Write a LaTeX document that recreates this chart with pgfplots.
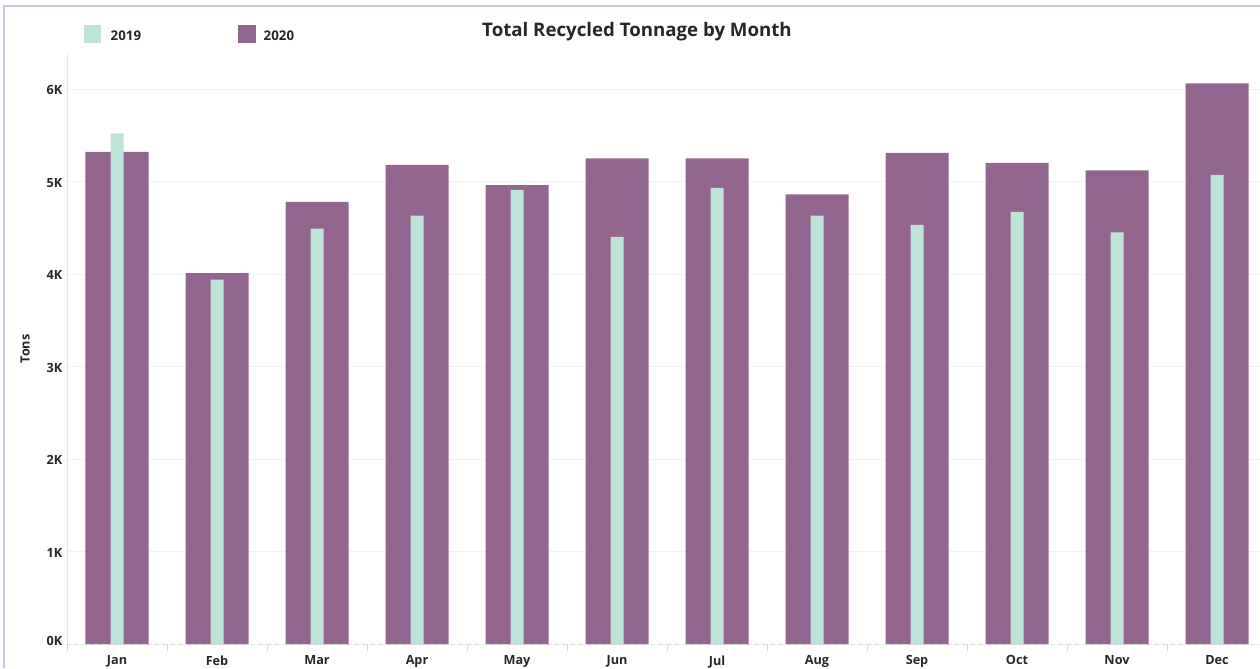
\documentclass[border=0pt]{standalone}
\usepackage{pgfplots}
\pgfplotsset{compat=1.18}
\usepackage{fontspec}
\setmainfont{Open Sans}
\definecolor{mint}{RGB}{189,228,217}
\definecolor{plum}{RGB}{147,102,143}
\definecolor{framecol}{RGB}{192,200,250}
\begin{document}
\begin{tikzpicture}[x=0.75pt,y=0.75pt]
\useasboundingbox (0,0) rectangle (1260,668);
\draw[framecol, line width=1.5pt] (4,0) -- (4,662) -- (1260,662);
% legend
\fill[mint] (84,643) rectangle (101,625);
\node[anchor=base west, font=\fontsize{10}{12}\selectfont\bfseries, text=black!85] at (106,627) {2019};
\fill[plum] (238,643) rectangle (256,625);
\node[anchor=base west, font=\fontsize{10}{12}\selectfont\bfseries, text=black!85] at (259,627) {2020};
% title
\node[anchor=base, font=\fontsize{14}{16}\selectfont\bfseries, text=black!85] at (637,631.5) {Total Recycled Tonnage by Month};
\begin{axis}[
  at={(50.25pt,18pt)}, anchor=south west, scale only axis,
  width=894.75pt, height=442.5pt,
  xmin=-0.5, xmax=11.43, ymin=0, ymax=6378,
  xtick={0,...,11},
  xticklabels={Jan,Feb,Mar,Apr,May,Jun,Jul,Aug,Sep,Oct,Nov,Dec},
  ytick={0,1000,2000,3000,4000,5000,6000},
  yticklabels={\raisebox{6pt}{0K},1K,2K,3K,4K,5K,6K},
  minor xtick={-0.5,0.5,...,11.5},
  axis lines=left,
  axis line style={draw=gray!18, -},
  x axis line style={dashed, draw=gray!30},
  ymajorgrids,
  grid style={draw=gray!10, line width=0.6pt},
  major tick length=0pt, minor tick length=5pt, tick align=outside,
  minor tick style={draw=gray!30},
  ticklabel style={font=\fontsize{9.5}{11}\selectfont\bfseries, text=black!85},
  xticklabel style={yshift=-5pt},
  yticklabel style={yshift=-1pt},
  ylabel={Tons},
  every axis y label/.style={at={(axis description cs:-0.035,0.5)}, rotate=90, anchor=center, font=\fontsize{9.5}{11}\selectfont\bfseries, text=black!85},
  ybar, bar shift=0pt,
]
\addplot[fill=plum, draw=none, bar width=0.63] coordinates {
(0,5320) (1,4010) (2,4780) (3,5180) (4,4960) (5,5250)
(6,5250) (7,4860) (8,5310) (9,5200) (10,5120) (11,6060)};
\addplot[fill=mint, draw=none, bar width=0.13] coordinates {
(0,5520) (1,3940) (2,4490) (3,4630) (4,4910) (5,4400)
(6,4930) (7,4630) (8,4530) (9,4670) (10,4450) (11,5070)};
\end{axis}
\end{tikzpicture}
\end{document}
